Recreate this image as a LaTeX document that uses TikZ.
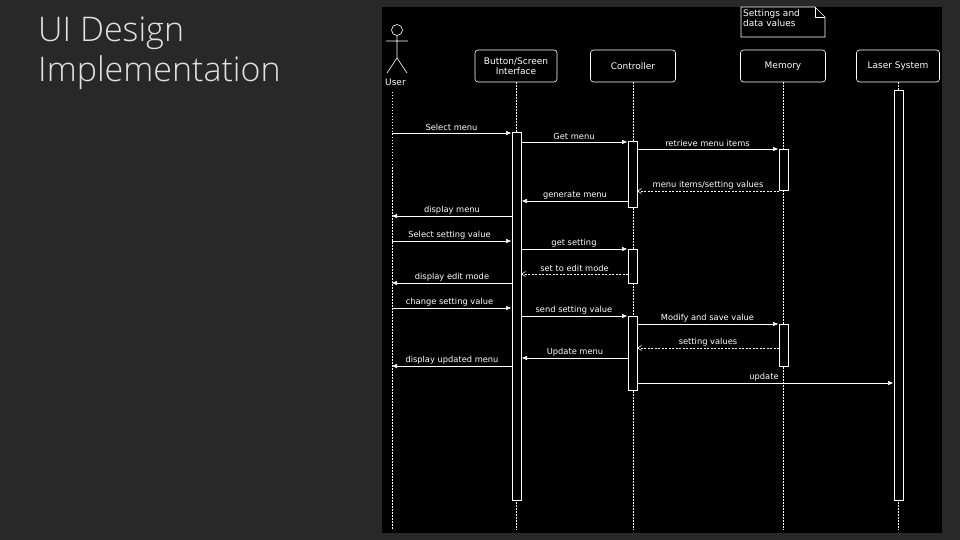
\documentclass[tikz,border=0pt]{standalone}
\usepackage{fontspec}
\setmainfont{DejaVu Sans}
\newfontfamily\titlefont{Open Sans Light}
\usetikzlibrary{arrows.meta}
\begin{document}
\begin{tikzpicture}[x=1pt,y=-1pt,
  hdr/.style={draw=white,rounded corners=3pt,line width=0.6pt,text=white,font=\fontsize{9}{10}\selectfont,align=center,inner sep=0pt},
  life/.style={draw=white,dash pattern=on 1.5pt off 1.5pt,line width=0.6pt},
  act/.style={draw=white,fill=black,line width=0.6pt},
  msg/.style={draw=white,line width=0.6pt,-{Triangle[length=5pt,width=4pt]}},
  ret/.style={draw=white,line width=0.6pt,dash pattern=on 2pt off 1.5pt,-{Straight Barb[length=4pt,width=5pt]}},
  lab/.style={text=white,font=\fontsize{8.3}{9}\selectfont,inner sep=1pt}]
\fill[fill={rgb,255:red,40;green,40;blue,40}] (0,0) rectangle (960,540);
\node[anchor=north west,text={rgb,255:red,225;green,225;blue,225},align=left,font=\titlefont\fontsize{34}{40}\selectfont,inner sep=0pt] (title) at (38,17) {UI Design\\Implementation};
\fill[black] (382,7) rectangle (942,533);
% note
\draw[white,line width=0.6pt] (741,7) -- (815,7) -- (825,17) -- (825,37) -- (741,37) -- cycle;
\draw[white,line width=0.6pt] (815,7) -- (815,17) -- (825,17);
\node[anchor=north west,text=white,align=left,font=\fontsize{9}{10}\selectfont,inner sep=0pt] (note) at (743,9) {Settings and\\data values};
% actor
\draw[white,line width=0.6pt] (397,30) circle (5.5);
\draw[white,line width=0.6pt] (397,35.5) -- (397,58) (386,41) -- (408,41) (397,58) -- (387,73) (397,58) -- (407,73);
\node[anchor=north west,text=white,font=\fontsize{9}{10}\selectfont,inner sep=0pt] (user) at (385,79) {User};
% headers
\node[hdr,minimum width=82,minimum height=32] (ui) at (516,66) {Button/Screen\\Interface};
\node[hdr,minimum width=85,minimum height=32] (ct) at (633,66) {Controller};
\node[hdr,minimum width=85,minimum height=32] (mem) at (783,66) {Memory};
\node[hdr,minimum width=83,minimum height=32] (las) at (898,66) {Laser System};
% lifelines
\coordinate (uE) at (392,530);
\draw[life] (392,92) -- (uE);
\coordinate (iE) at (516,530);
\draw[life] (ui.south) -- (iE);
\coordinate (cE) at (633,530);
\draw[life] (ct.south) -- (cE);
\coordinate (mE) at (783,530);
\draw[life] (mem.south) -- (mE);
\coordinate (lE) at (898,530);
\draw[life] (las.south) -- (lE);
% activations
\draw[act] (512,132) rectangle (521,500);
\draw[act] (628,141) rectangle (637,207);
\draw[act] (628,249) rectangle (637,283);
\draw[act] (628,316) rectangle (637,390);
\draw[act] (779,149) rectangle (788,190);
\draw[act] (779,324) rectangle (788,366);
\draw[act] (894,90) rectangle (903,500);
% messages
\newcommand\mymsg[6]{\draw[#1] (#2,#4) -- (#3,#4); \node[lab,anchor=south] at ({(#2+#3)/2+#6},#4-1) {#5};}
\mymsg{msg}{392}{511}{133}{Select menu}{0}
\mymsg{msg}{521}{627}{142}{Get menu}{0}
\mymsg{msg}{637}{778}{149}{retrieve menu items}{0}
\mymsg{ret}{779}{637}{191}{menu items/setting values}{0}
\mymsg{msg}{628}{522}{201}{generate menu}{0}
\mymsg{msg}{512}{392}{216}{display menu}{0}
\mymsg{msg}{392}{511}{241}{Select setting value}{-2}
\mymsg{msg}{521}{627}{249}{get setting}{0}
\mymsg{ret}{628}{521}{274}{set to edit mode}{0}
\mymsg{msg}{512}{392}{283}{display edit mode}{0}
\mymsg{msg}{392}{511}{308}{change setting value}{-2}
\mymsg{msg}{521}{627}{316}{send setting value}{0}
\mymsg{msg}{637}{778}{324}{Modify and save value}{0}
\mymsg{ret}{779}{637}{348}{setting values}{0}
\mymsg{msg}{628}{522}{358}{Update menu}{0}
\mymsg{msg}{512}{392}{366}{display updated menu}{0}
\mymsg{msg}{637}{893}{383}{update}{-1}
\end{tikzpicture}
\end{document}
